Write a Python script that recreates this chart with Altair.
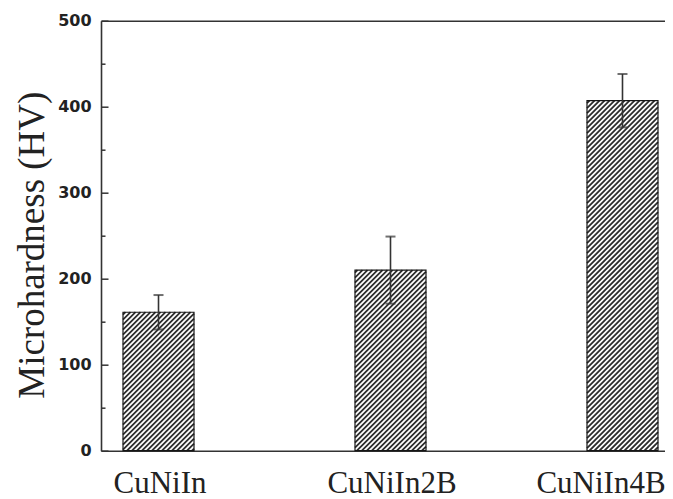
import json
import altair as alt
import pandas as pd

# ---- data ----
categories = ["CuNiIn", "CuNiIn2B", "CuNiIn4B"]
hardness = [161, 210, 407]
errors = [20, 39, 31]
y_tick_values = [0, 50, 100, 150, 200, 250, 300, 350, 400, 450, 500]

# ---- layout constants (pixels) ----
W, H = 564, 430
YMAX = 500
STEP = 232.0          # px between category centres
FIRST = 57.5          # px from plot left edge to first centre
BW = 71.0             # bar width px
HATCH_P = 5.0         # hatch period (px, measured horizontally)
KY = H / YMAX         # px per HV unit

DARK = "#2b2b2b"
AX = "#333333"
TXT = "#222222"

idx = list(range(len(categories)))
df = pd.DataFrame({"i": idx, "cat": categories, "hv": hardness, "err": errors})
df["lo"] = df["hv"] - df["err"]
df["hi"] = df["hv"] + df["err"]
df["xl"] = df["i"] - BW / 2 / STEP
df["xr"] = df["i"] + BW / 2 / STEP
df["base"] = 0

# diagonal '///' hatch texture inside each bar, clipped to the bar rectangle
rows = []
for i, v in zip(idx, hardness):
    h = v * KY
    w = BW
    c = HATCH_P * 0.5
    while c < w + h:
        lx0 = max(0.0, c - h)
        ly0 = c - lx0
        lx1 = min(w, c)
        ly1 = c - lx1
        rows.append({
            "hx": i - w / 2 / STEP + lx0 / STEP, "hx2": i - w / 2 / STEP + lx1 / STEP,
            "hy": v - ly0 / KY, "hy2": v - ly1 / KY,
        })
        c += HATCH_P
hatch_df = pd.DataFrame(rows)

xscale = alt.Scale(domain=[-FIRST / STEP, (W - FIRST) / STEP], nice=False, zero=False)
yscale = alt.Scale(domain=[0, YMAX], nice=False, zero=True)

label_expr = f"{json.dumps(categories)}[datum.value]"

x_main_axis = alt.Axis(
    values=idx, labelExpr=label_expr, labelFlush=False, labelBound=False,
    title=None, ticks=False, tickSize=0, domain=True, domainColor=AX, domainWidth=1.6,
    labelFont="Liberation Serif", labelFontSize=31, labelColor=TXT, labelPadding=18,
    labelAngle=0, labelOverlap=False, grid=False,
    labelOffset={"condition": {"test": "datum.value === 2", "value": -22}, "value": 1},
)
y_main_axis = alt.Axis(
    values=y_tick_values,
    labelExpr="datum.value % 100 === 0 ? datum.label : ''",
    ticks=False, tickSize=0, domain=True, domainColor=AX, domainWidth=1.6,
    labelFont="DejaVu Sans", labelFontWeight="bold", labelFontSize=16, labelColor=TXT,
    labelPadding=10, grid=False,
    title="Microhardness (HV)", titleFont="Liberation Serif", titleFontSize=37,
    titleFontWeight="normal", titleColor=TXT, titleX=-69, titleY=224,
    titleAlign="center", titleBaseline="middle",
)

base = alt.Chart(df)

bars_fill = base.mark_rect(fill="white", strokeWidth=0).encode(
    x=alt.X("xl:Q", scale=xscale, axis=x_main_axis),
    x2="xr:Q",
    y=alt.Y("hv:Q", scale=yscale, axis=y_main_axis),
    y2="base:Q",
)

hatch = alt.Chart(hatch_df).mark_rule(color=DARK, strokeWidth=1.8, strokeCap="butt").encode(
    x=alt.X("hx:Q", scale=xscale, axis=None),
    x2="hx2:Q",
    y=alt.Y("hy:Q", scale=yscale, axis=None),
    y2="hy2:Q",
)

bars_outline = base.mark_rect(fillOpacity=0, stroke="#151515", strokeWidth=1.2).encode(
    x=alt.X("xl:Q", scale=xscale, axis=None),
    x2="xr:Q",
    y=alt.Y("hv:Q", scale=yscale, axis=None),
    y2="base:Q",
)

err_rule = base.mark_rule(color=AX, strokeWidth=1.6).encode(
    x=alt.X("i:Q", scale=xscale,
            axis=alt.Axis(orient="top", labels=False, ticks=False, title=None, domain=True,
                          domainColor=AX, domainWidth=1.6, grid=False)),
    y=alt.Y("lo:Q", scale=yscale,
            axis=alt.Axis(orient="right", offset=-W, values=y_tick_values, labels=False,
                          title=None, domain=False, ticks=True, tickColor=AX, tickWidth=1.5,
                          tickSize={"condition": {"test": "datum.value % 100 === 0", "value": 7}, "value": 4},
                          grid=False)),
    y2="hi:Q",
)
cap_hi = base.mark_tick(orient="horizontal", size=10, thickness=2, color=AX).encode(
    x=alt.X("i:Q", scale=xscale, axis=None),
    y=alt.Y("hi:Q", scale=yscale, axis=None),
)
cap_lo = base.mark_tick(orient="horizontal", size=10, thickness=2, color=AX).encode(
    x=alt.X("i:Q", scale=xscale, axis=None),
    y=alt.Y("lo:Q", scale=yscale, axis=None),
)

chart = (
    alt.layer(bars_fill, hatch, bars_outline, err_rule, cap_hi, cap_lo)
    .resolve_axis(x="independent", y="independent")
    .properties(
        width=W, height=H,
        autosize=alt.AutoSizeParams(type="none"),
        padding={"left": 93, "top": 12.7, "right": 0, "bottom": 52},
        background="white",
    )
    .configure_view(stroke=None)
)

chart.save("out.html", embed_options={"renderer": "svg", "actions": False})
